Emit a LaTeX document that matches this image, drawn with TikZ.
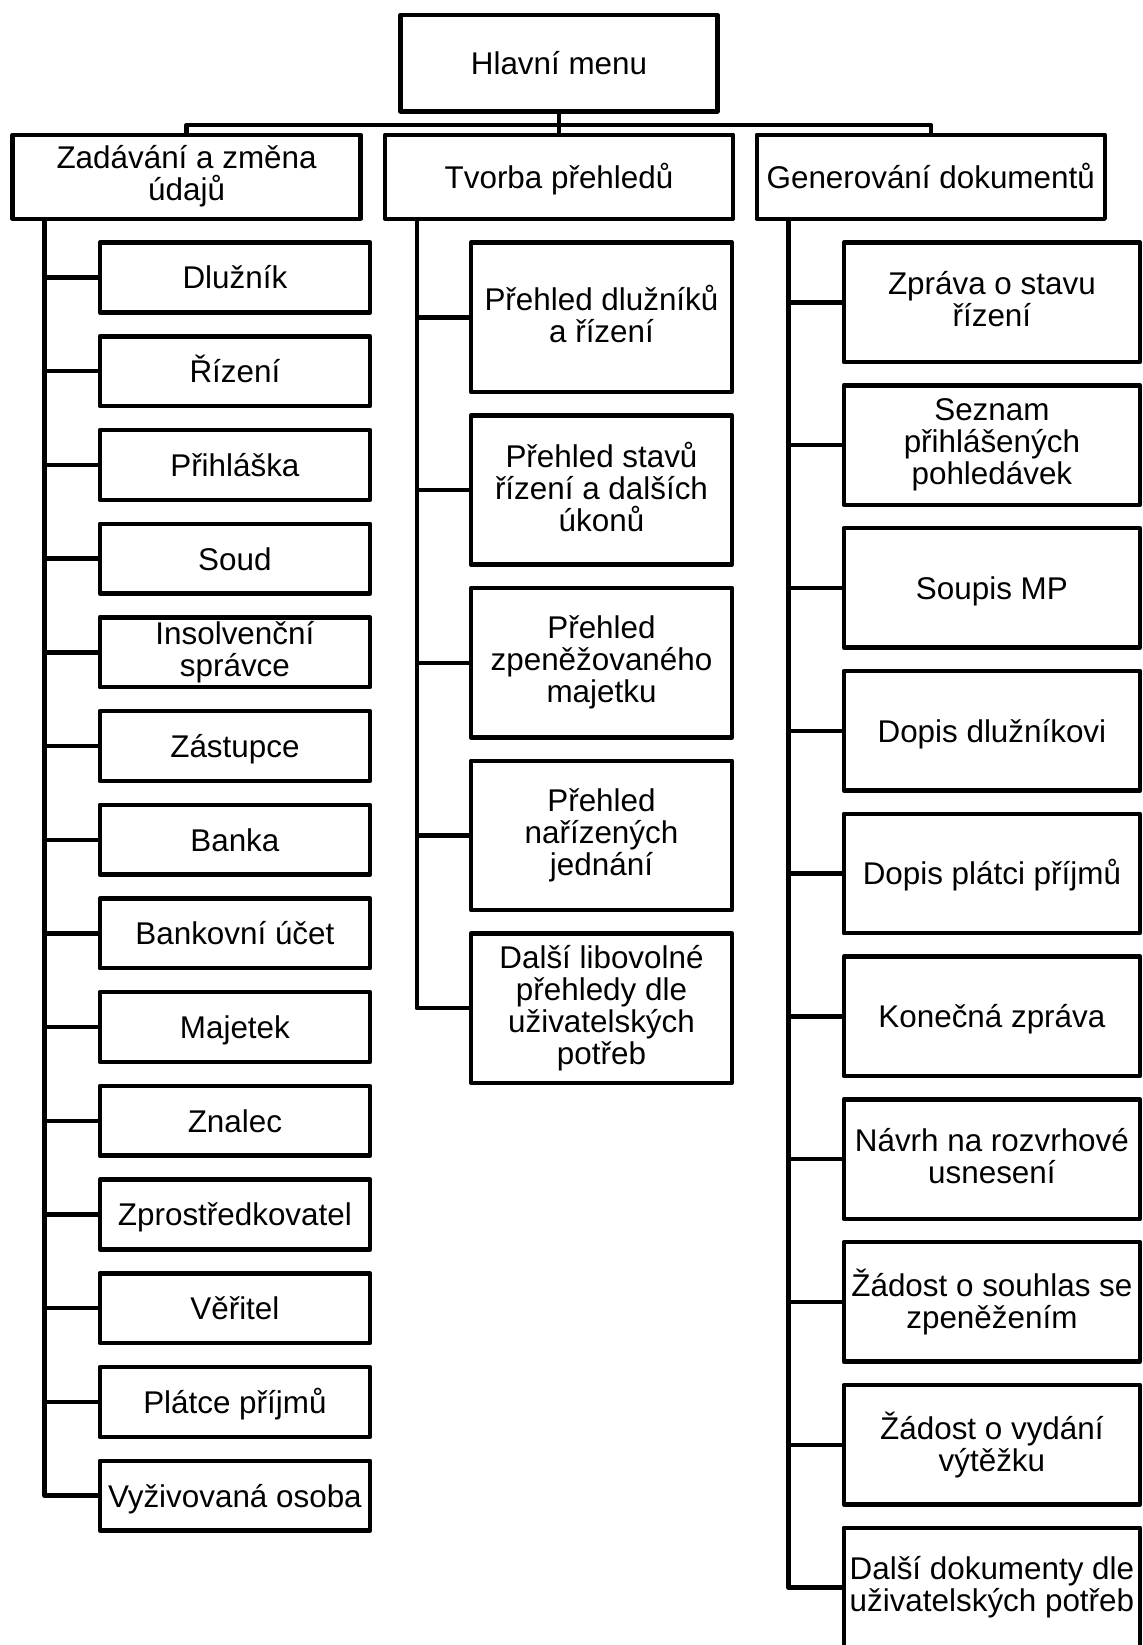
\documentclass[tikz,border=0pt]{standalone}
\usepackage{fontspec}
\setmainfont{Liberation Sans}
\usetikzlibrary{calc}
\newcommand{\boxstrut}{\rule[-3.3pt]{0pt}{18pt}}
\tikzset{
  basebox/.style={
    draw=black,
    line width=2.2pt,
    line join=round,
    inner sep=0pt,
    align=center,
    font=\fontsize{15.7}{16}\selectfont,
    execute at begin node=\boxstrut,
    execute at end node=\boxstrut
  },
  topbox/.style={basebox, minimum width=158.5pt, minimum height=48.3pt},
  catbox/.style={basebox, minimum width=174pt, minimum height=42pt},
  itembox/.style={basebox, minimum width=135.2pt, minimum height=34.85pt},
  viewbox/.style={basebox, minimum width=130.5pt, minimum height=74.65pt},
  docbox/.style={basebox, minimum width=148.2pt, minimum height=59.65pt},
  conn/.style={draw=black, line width=2.2pt, line join=round}
}

\begin{document}
\begin{tikzpicture}[x=0.5pt,y=-0.5pt]
    \useasboundingbox (0,0) rectangle (1142,1645);
    % top level
    \node[topbox] (menu) at (559,63) {Hlavní menu};
    \node[catbox] (zad) at (186.6,176.7) {Zadávání a změna\\údajů};
    \node[catbox] (tvo) at (559,176.7) {Tvorba přehledů};
    \node[catbox] (gen) at (930.7,176.7) {Generování dokumentů};

    % zadavani
    \node[itembox] (dluz) at (234.9,277.5) {Dlužník};
    \node[itembox] (rizeni) at (234.9,371.2) {Řízení};
    \node[itembox] (prihl) at (234.9,464.9) {Přihláška};
    \node[itembox] (soud) at (234.9,558.6) {Soud};
    \node[itembox] (insolv) at (234.9,652.3) {Insolvenční\\správce};
    \node[itembox] (zast) at (234.9,746.0) {Zástupce};
    \node[itembox] (banka) at (234.9,839.7) {Banka};
    \node[itembox] (ucet) at (234.9,933.4) {Bankovní účet};
    \node[itembox] (majetek) at (234.9,1027.1) {Majetek};
    \node[itembox] (znalec) at (234.9,1120.8) {Znalec};
    \node[itembox] (zprost) at (234.9,1214.5) {Zprostředkovatel};
    \node[itembox] (veritel) at (234.9,1308.2) {Věřitel};
    \node[itembox] (platce) at (234.9,1401.9) {Plátce příjmů};
    \node[itembox] (vyziv) at (234.9,1495.6) {Vyživovaná osoba};

    % prehledy
    \node[viewbox] (phdluz) at (601.5,317.3) {Přehled dlužníků\\a řízení};
    \node[viewbox] (phstav) at (601.5,490.0) {Přehled stavů\\řízení a dalších\\úkonů};
    \node[viewbox] (phmaj) at (601.5,662.7) {Přehled\\zpeněžovaného\\majetku};
    \node[viewbox] (phjed) at (601.5,835.4) {Přehled\\nařízených\\jednání};
    \node[viewbox] (phdalsi) at (601.5,1008.1) {Další libovolné\\přehledy dle\\uživatelských\\potřeb};

    % dokumenty
    \node[docbox] (zprava) at (991.9,302.3) {Zpráva o stavu\\řízení};
    \node[docbox] (seznam) at (991.9,445.1) {Seznam\\přihlášených\\pohledávek};
    \node[docbox] (soupis) at (991.9,587.9) {Soupis MP};
    \node[docbox] (dopdluz) at (991.9,730.7) {Dopis dlužníkovi};
    \node[docbox] (dopplat) at (991.9,873.5) {Dopis plátci příjmů};
    \node[docbox] (konec) at (991.9,1016.3) {Konečná zpráva};
    \node[docbox] (navrh) at (991.9,1159.1) {Návrh na rozvrhové\\usnesení};
    \node[docbox] (zadsouhl) at (991.9,1301.9) {Žádost o souhlas se\\zpeněžením};
    \node[docbox] (zadvyd) at (991.9,1444.7) {Žádost o vydání\\výtěžku};
    \node[docbox] (dalsidok) at (991.9,1587.5) {Další dokumenty dle\\uživatelských potřeb};

    % tree lines
    \coordinate (bus) at ($(menu.south)!0.6!(tvo.north)$);
    \draw[conn] (menu.south) -- (tvo.north);
    \draw[conn] (zad.north) |- (bus) -| (gen.north);

    \coordinate (zadspine) at ([xshift=17pt]zad.south west);
    \coordinate (tvospine) at ([xshift=17pt]tvo.south west);
    \coordinate (genspine) at ([xshift=17pt]gen.south west);

    \draw[conn] (zadspine) |- (vyziv.west);
    \draw[conn] (dluz.west) -- (dluz.west -| zadspine) (rizeni.west) -- (rizeni.west -| zadspine)
      (prihl.west) -- (prihl.west -| zadspine) (soud.west) -- (soud.west -| zadspine)
      (insolv.west) -- (insolv.west -| zadspine) (zast.west) -- (zast.west -| zadspine)
      (banka.west) -- (banka.west -| zadspine) (ucet.west) -- (ucet.west -| zadspine)
      (majetek.west) -- (majetek.west -| zadspine) (znalec.west) -- (znalec.west -| zadspine)
      (zprost.west) -- (zprost.west -| zadspine) (veritel.west) -- (veritel.west -| zadspine)
      (platce.west) -- (platce.west -| zadspine);

    \draw[conn] (tvospine) |- (phdalsi.west);
    \draw[conn] (phdluz.west) -- (phdluz.west -| tvospine) (phstav.west) -- (phstav.west -| tvospine)
      (phmaj.west) -- (phmaj.west -| tvospine) (phjed.west) -- (phjed.west -| tvospine);

    \draw[conn] (genspine) |- (dalsidok.west);
    \draw[conn] (zprava.west) -- (zprava.west -| genspine) (seznam.west) -- (seznam.west -| genspine)
      (soupis.west) -- (soupis.west -| genspine) (dopdluz.west) -- (dopdluz.west -| genspine)
      (dopplat.west) -- (dopplat.west -| genspine) (konec.west) -- (konec.west -| genspine)
      (navrh.west) -- (navrh.west -| genspine) (zadsouhl.west) -- (zadsouhl.west -| genspine)
      (zadvyd.west) -- (zadvyd.west -| genspine);
\end{tikzpicture}
\end{document}
